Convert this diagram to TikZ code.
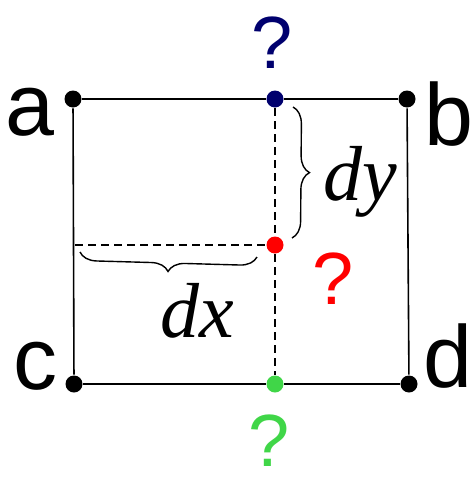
\documentclass[tikz,border=0pt]{standalone}
\usepackage{fontspec}
\setmainfont{Liberation Sans}
\newfontfamily\timesit{Liberation Serif}
\usetikzlibrary{decorations.pathreplacing}
\definecolor{navyq}{RGB}{0,0,110}
\definecolor{greenq}{RGB}{64,214,72}
\begin{document}
\begin{tikzpicture}[x=1pt,y=-1pt,line width=1.6pt,
  dot/.style={circle,fill,inner sep=0pt,minimum size=17pt},
  letter/.style={inner sep=0pt,font=\fontsize{88}{88}\selectfont},
  ask/.style={inner sep=0pt,font=\fontsize{74}{74}\selectfont},
  dd/.style={inner sep=0pt,font=\fontsize{78}{78}\selectfont\timesit\itshape},
  dash line/.style={line width=1.6pt,dash pattern=on 8pt off 5pt},
  curly/.style={line width=1.4pt,decorate,decoration={brace,amplitude=17pt}}]
\useasboundingbox (0,0) rectangle (472,477);
\node[dot] (a) at (73,99) {};
\node[dot] (b) at (407,99) {};
\node[dot] (c) at (74,384) {};
\node[dot] (d) at (409,384) {};
\node[dot,navyq] (top) at (275,99) {};
\node[dot,red] (mid) at (275,245) {};
\node[dot,greenq] (bot) at (275,384) {};
\coordinate (left) at (75,245);
\draw (a) -- (top) -- (b);
\draw (c) -- (bot) -- (d);
\draw (a) -- (c);
\draw (b) -- (d);
\draw[dash line] (top) -- (mid) -- (bot);
\draw[dash line] (left) -- (mid);
\draw[curly] (293,107) -- (292,238);
\draw[curly] (257,257) -- (80,252);
\node[letter] (la) at (30,112) {a};
\node[letter] (lb) at (449,114) {b};
\node[letter] (lc) at (35,366) {c};
\node[letter] (ld) at (448,356) {d};
\node[ask,navyq] (qtop) at (272,43) {?};
\node[ask,red] (qmid) at (333,279) {?};
\node[ask,greenq] (qbot) at (269,441) {?};
\node[dd] (ldy) at (360,182) {dy};
\node[dd] (ldx) at (197,311) {dx};
\end{tikzpicture}
\end{document}
